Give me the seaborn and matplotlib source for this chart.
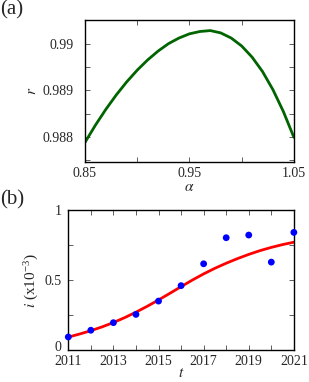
import numpy as np
import pandas as pd
import seaborn as sns
import matplotlib
matplotlib.use('Agg')
import matplotlib.pyplot as plt
import matplotlib.transforms as mtransforms
from matplotlib.ticker import FixedLocator, FuncFormatter

# (a) r vs alpha
alpha = [0.85, 0.86, 0.87, 0.88, 0.89, 0.90, 0.91, 0.92, 0.93, 0.94, 0.95,
         0.96, 0.97, 0.98, 0.99, 1.00, 1.01, 1.02, 1.03, 1.04, 1.05]
r_val = [0.98788, 0.98825, 0.98859, 0.98890, 0.98918, 0.98943, 0.98965, 0.98984,
         0.99000, 0.99012, 0.99021, 0.99026, 0.99028, 0.99023, 0.99012, 0.98995,
         0.98971, 0.98940, 0.98901, 0.98854, 0.98799]

# (b) observed points and fitted curve
years = [2011, 2012, 2013, 2014, 2015, 2016, 2017, 2018, 2019, 2020, 2021]
i_obs = [0.095, 0.143, 0.197, 0.256, 0.351, 0.461, 0.617, 0.803, 0.822, 0.629, 0.841]
t_fit = [2011, 2011.5, 2012, 2012.5, 2013, 2013.5, 2014, 2014.5, 2015, 2015.5, 2016,
         2016.5, 2017, 2017.5, 2018, 2018.5, 2019, 2019.5, 2020, 2020.5, 2021]
i_fit = [0.094, 0.116, 0.140, 0.167, 0.198, 0.233, 0.272, 0.314, 0.359, 0.406, 0.454,
         0.501, 0.545, 0.585, 0.621, 0.654, 0.684, 0.711, 0.734, 0.754, 0.771]

a_major = [0.85, 0.95, 1.05]
a_minor = [0.90, 1.00]
r_major = [0.988, 0.989, 0.990]
r_minor = [0.9875, 0.9885, 0.9895, 0.9905]
t_major = [2011, 2013, 2015, 2017, 2019, 2021]
t_minor = [2012, 2014, 2016, 2018, 2020]
i_major = [0, 0.5, 1]
i_minor = [0.25, 0.75]

sns.set_style('ticks')
plt.rcParams['font.family'] = ['Liberation Serif', 'DejaVu Serif']
plt.rcParams['mathtext.fontset'] = 'stix'

fig = plt.figure(figsize=(3.09, 3.82), dpi=100)
ax1 = fig.add_axes([0.275, 0.576, 0.676, 0.372])
ax2 = fig.add_axes([0.221, 0.083, 0.730, 0.367])

df_a = pd.DataFrame({'alpha': alpha, 'r': r_val})
sns.lineplot(data=df_a, x='alpha', y='r', ax=ax1, color='#006400', linewidth=2)
ax1.set_xlim(0.85, 1.05)
ax1.set_ylim(0.98746, 0.99051)
ax1.xaxis.set_major_locator(FixedLocator(a_major))
ax1.xaxis.set_minor_locator(FixedLocator(a_minor))
ax1.yaxis.set_major_locator(FixedLocator(r_major))
ax1.yaxis.set_minor_locator(FixedLocator(r_minor))
ax1.xaxis.set_major_formatter(FuncFormatter(lambda v, p: '%g' % round(v, 3)))
ax1.yaxis.set_major_formatter(FuncFormatter(lambda v, p: '%g' % round(v, 4)))
ax1.tick_params(axis='y', which='major', pad=8)
ax1.set_xlabel(r'$\alpha$', fontsize=11, labelpad=1)
ax1.set_ylabel(r'$r$', fontsize=11, labelpad=3)

df_obs = pd.DataFrame({'t': years, 'i': i_obs})
df_fit = pd.DataFrame({'t': t_fit, 'i': i_fit})
sns.lineplot(data=df_fit, x='t', y='i', ax=ax2, color='red', linewidth=2)
sns.scatterplot(data=df_obs, x='t', y='i', ax=ax2, color='blue', s=24,
                edgecolor='none', zorder=3, clip_on=False)
ax2.set_xlim(2011, 2021)
ax2.set_ylim(0, 1)
ax2.xaxis.set_major_locator(FixedLocator(t_major))
ax2.xaxis.set_minor_locator(FixedLocator(t_minor))
ax2.yaxis.set_major_locator(FixedLocator(i_major))
ax2.yaxis.set_minor_locator(FixedLocator(i_minor))
ax2.yaxis.set_major_formatter(FuncFormatter(lambda v, p: '%g' % v))
ax2.xaxis.set_major_formatter(FuncFormatter(lambda v, p: '%d' % v))
ax2.tick_params(axis='y', which='major', pad=5)
ax2.set_xlabel(r'$t$', fontsize=11, labelpad=-1)
ax2.set_ylabel(r'$i$ (x10$^{\mathregular{-3}}$)', fontsize=11, labelpad=3)

for ax in (ax1, ax2):
    ax.tick_params(which='both', direction='in', top=True, right=True,
                   labelsize=10, width=0.6, color='#444444', length=3.5)
    ax.tick_params(axis='x', which='major', pad=3.5)
    for s in ax.spines.values():
        s.set_visible(True)
        s.set_linewidth(1.0)
        s.set_color('black')

# nudge the "0" label up so it clears "2011"
fig.canvas.draw()
shift = mtransforms.ScaledTranslation(0, 3 / 72, fig.dpi_scale_trans)
for lbl in ax2.get_yticklabels():
    if lbl.get_text() == '0':
        lbl.set_transform(lbl.get_transform() + shift)

fig.text(0.0, 1.0, '(a)', fontsize=15, ha='left', va='top')
fig.text(0.0, 0.503, '(b)', fontsize=15, ha='left', va='top')

fig.savefig('out.png', dpi=100)
